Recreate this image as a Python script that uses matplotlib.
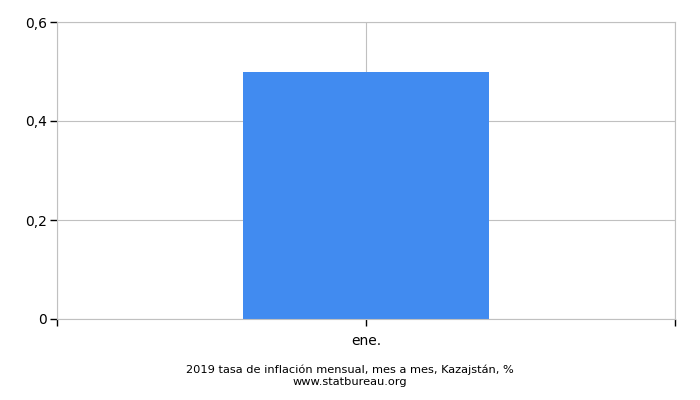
import matplotlib
matplotlib.use("Agg")
import matplotlib.pyplot as plt
from matplotlib.ticker import FuncFormatter

categories = ["ene."]
values = [0.5]
yticks = [0, 0.2, 0.4, 0.6]

fig = plt.figure(figsize=(7, 4), dpi=100)
ax = fig.add_axes([57/700, 81/400, 618/700, 297/400])

xs = list(range(len(categories)))
ax.bar(xs, values, width=0.398, color="#418bf0", zorder=2)

ax.set_xlim(-0.5, 0.5)
ax.set_ylim(0, 0.6)
ax.set_yticks(yticks)
ax.yaxis.set_major_formatter(FuncFormatter(lambda v, p: ("%g" % round(v, 2)).replace(".", ",")))
ax.set_xticks([-0.5, 0, 0.5])
ax.set_xticklabels(["", categories[0], ""])

ax.grid(True, color="#c0c0c0", linewidth=0.8, zorder=0)
for s in ax.spines.values():
    s.set_color("#c0c0c0")
ax.tick_params(axis="both", direction="out", length=5, width=1, color="black", labelsize=10, pad=2)
ax.tick_params(axis="x", pad=6)

fig.text(0.5, 1 - 370/400, "2019 tasa de inflación mensual, mes a mes, Kazajstán, %",
         ha="center", va="center", fontsize=8.2)
fig.text(0.5, 1 - 382/400, "www.statbureau.org", ha="center", va="center", fontsize=8.2)

fig.savefig("out.png", dpi=100)
